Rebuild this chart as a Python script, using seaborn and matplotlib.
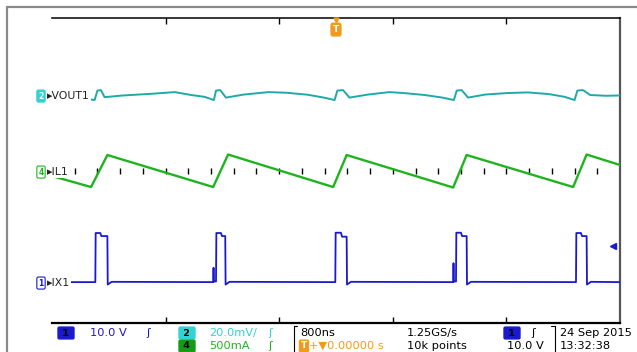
import numpy as np
import matplotlib
matplotlib.use("Agg")
import matplotlib.pyplot as plt
import matplotlib.transforms as mtransforms
from matplotlib.lines import Line2D
import seaborn as sns

# ---- data (time in us, trigger at 0) ----
ix1_t = [-4.00, -3.39, -3.385, -3.32, -3.305, -3.22, -3.215, -3.16,
         -1.73, -1.725, -1.72, -1.69, -1.685, -1.62, -1.605, -1.56, -1.555, -1.50,
         -0.01, -0.005, 0.07, 0.085, 0.15, 0.155, 0.21,
         1.65, 1.655, 1.66, 1.69, 1.695, 1.76, 1.775, 1.84, 1.845, 1.90,
         3.38, 3.385, 3.45, 3.465, 3.53, 3.535, 3.59, 4.00]
ix1_v = [0.3, 0.3, 16.4, 16.4, 15.4, 15.4, -0.5, 0.4,
         0.3, 5.0, 0.5, 0.5, 16.4, 16.4, 15.4, 15.4, -0.5, 0.4,
         0.3, 16.5, 16.5, 15.2, 15.2, -0.5, 0.4,
         0.3, 6.5, 0.5, 0.5, 16.5, 16.5, 15.4, 15.4, -0.5, 0.4,
         0.3, 16.4, 16.4, 15.4, 15.4, -0.5, 0.4, 0.3]

vout_t = [-4.00, -3.70, -3.40, -3.36, -3.31, -3.26, -3.00, -2.60, -2.27, -2.04,
          -1.85, -1.72, -1.69, -1.63, -1.55, -1.30, -0.95, -0.70, -0.40, -0.17,
          -0.02, 0.02, 0.10, 0.19, 0.45, 0.75, 0.95, 1.25, 1.50, 1.66,
          1.70, 1.77, 1.86, 2.10, 2.42, 2.70, 3.00, 3.22, 3.36, 3.40,
          3.48, 3.58, 3.80, 4.00]
vout_mv = [0.7, -0.5, -2.6, 3.6, 3.9, -0.7, 0.4, 1.5, 2.6, 0.7,
           -0.5, -2.6, 3.6, 3.9, -1.0, 1.0, 2.6, 2.2, 0.9, -1.0,
           -2.6, 3.6, 3.9, -1.0, 1.0, 2.6, 2.0, 0.7, -1.0, -2.6,
           3.6, 3.9, -1.0, 1.0, 2.0, 2.4, 1.3, -0.5, -2.6, 3.6,
           3.9, 0.7, 0.2, 0.4]

il1_t = [-4.00, -3.45, -3.22, -1.73, -1.52, -0.04, 0.15, 1.65, 1.84, 3.34, 3.53, 4.00]
il1_ma = [-66, -246, 279, -246, 287, -246, 279, -254, 279, -246, 287, 115]

# channel settings: (units per div, offset in div)
ch1_scale, ch1_off = 10.0, -3.69
ch2_scale, ch2_off = 20.0, 2.44
ch4_scale, ch4_off = 500.0, -0.05
trig_level = 12.0

c_blue = "#1a1acc"
c_cyan = "#1fa9a9"
c_cyan_lbl = "#33d3d3"
c_green = "#1fb41f"
c_orange = "#f39a1c"

W, H = 637, 352
def fx(px):
    return px / W
def fy(py):
    return 1 - py / H

sns.set_style("white")
plt.rcParams["font.family"] = ["DejaVu Sans"]

fig = plt.figure(figsize=(W / 100, H / 100), dpi=100)
rect = [fx(52), fy(323), (620 - 52) / W, (323 - 18) / H]

# base axes: frame, graticule ticks, in divisions
ax = fig.add_axes(rect)
ax.set_xlim(-4, 4)
ax.set_ylim(-5, 5)
ax.set_yticks([])
ax.spines["left"].set_visible(False)
ax.spines["top"].set_color("black")
ax.spines["top"].set_linewidth(1.1)
ax.spines["bottom"].set_color("black")
ax.spines["bottom"].set_linewidth(1.6)
ax.spines["right"].set_color("#555555")
ax.spines["right"].set_linewidth(1.6)
ax.set_xticks([-2.4, -0.8, 0.8, 2.4])
ax.tick_params(axis="x", which="both", top=True, bottom=True, direction="in",
               length=4, width=1.0, color="black", labelbottom=False, labeltop=False)

center_ticks = np.linspace(-4, 4, 26)[1:-1]
ax.plot(center_ticks, np.zeros_like(center_ticks), ls="none", marker="|",
        ms=5, mew=1.0, color="black", zorder=1)

# trigger position marker at top
ax.plot([0], [4.93], marker="v", ms=3.5, color=c_orange, clip_on=False, zorder=5)
ax.text(0, 4.62, "T", ha="center", va="center", fontsize=6.5, color="white",
        fontweight="bold", zorder=6,
        bbox=dict(boxstyle="round,pad=0.2", fc=c_orange, ec=c_orange))


def channel_axes(scale, off):
    a = fig.add_axes(rect, sharex=ax)
    a.patch.set_visible(False)
    a.axis("off")
    a.set_ylim((-5 - off) * scale, (5 - off) * scale)
    return a


ax1 = channel_axes(ch1_scale, ch1_off)
ax2 = channel_axes(ch2_scale, ch2_off)
ax4 = channel_axes(ch4_scale, ch4_off)

sns.lineplot(x=ix1_t, y=ix1_v, ax=ax1, color=c_blue, lw=1.3, sort=False,
             estimator=None, zorder=3)
sns.lineplot(x=vout_t, y=vout_mv, ax=ax2, color=c_cyan, lw=1.4, sort=False,
             estimator=None, zorder=3)
sns.lineplot(x=il1_t, y=il1_ma, ax=ax4, color=c_green, lw=1.7, sort=False,
             estimator=None, zorder=3)
ax1.plot([3.90], [trig_level], marker="<", ms=4.5, color=c_blue, clip_on=False)

# channel labels on the left of the traces
def trace_label(a, name, num, fc, tc, ec):
    tr = mtransforms.blended_transform_factory(fig.transFigure, a.transData)
    a.text(fx(41), 0, num, transform=tr, ha="center", va="center", fontsize=5.5,
           color=tc, fontweight="bold", clip_on=False, zorder=8,
           bbox=dict(boxstyle="round,pad=0.2", fc=fc, ec=ec, lw=0.8))
    a.text(fx(47), 0, "\u25b8" + name, transform=tr, ha="left", va="center",
           fontsize=7.8, color="#222222", clip_on=False, zorder=8,
           bbox=dict(boxstyle="square,pad=0.1", fc="white", ec="none"))


trace_label(ax2, "VOUT1", "2", c_cyan_lbl, "white", c_cyan_lbl)
trace_label(ax4, "IL1", "4", "white", c_green, c_green)
trace_label(ax1, "IX1", "1", "white", c_blue, c_blue)

# outer frame of the screen
fig.add_artist(Line2D([fx(7), 1.0], [fy(7), fy(7)], color="#8a8a8a", lw=1.6))
fig.add_artist(Line2D([fx(7), fx(7)], [fy(7), 0.0], color="#8a8a8a", lw=1.6))

# status bar
row1, row2 = 333, 346


def badge(x, y, s, fc, tc):
    fig.text(fx(x), fy(y), " " + s + " ", ha="center", va="center", fontsize=6.8,
             color=tc, fontweight="bold",
             bbox=dict(boxstyle="round,pad=0.15", fc=fc, ec=fc))


def status(x, y, s, color="black"):
    fig.text(fx(x), fy(y), s, ha="left", va="center", fontsize=8.2, color=color)


badge(66, row1, "1", c_blue, "black")
status(90, row1, "10.0 V", c_blue)
status(146, row1, "\u0283", c_blue)
badge(187, row1, "2", c_cyan_lbl, "black")
status(209, row1, "20.0mV/", c_cyan_lbl)
status(268, row1, "\u0283", c_cyan_lbl)
badge(187, row2, "4", "#169a16", "black")
status(209, row2, "500mA", c_green)
status(268, row2, "\u0283", c_green)

fig.add_artist(Line2D([fx(294), fx(294)], [fy(326), 0.0], color="black", lw=0.8))
fig.add_artist(Line2D([fx(294), fx(297)], [fy(326), fy(326)], color="black", lw=0.8))
status(300, row1, "800ns")
fig.text(fx(304), fy(row2), "T", ha="center", va="center", fontsize=6.5, color="white",
         fontweight="bold", bbox=dict(boxstyle="round,pad=0.15", fc=c_orange, ec=c_orange))
status(309, row2, "+\u25bc0.00000 s", c_orange)
status(407, row1, "1.25GS/s")
status(407, row2, "10k points")
badge(512, row1, "1", c_blue, "black")
status(531, row1, "\u0283")
status(507, row2, "10.0 V")
fig.add_artist(Line2D([fx(555), fx(555)], [fy(326), 0.0], color="black", lw=0.8))
fig.add_artist(Line2D([fx(551), fx(555)], [fy(326), fy(326)], color="black", lw=0.8))
status(560, row1, "24 Sep 2015")
status(560, row2, "13:32:38")

fig.savefig("out.png", dpi=100, facecolor="white")
